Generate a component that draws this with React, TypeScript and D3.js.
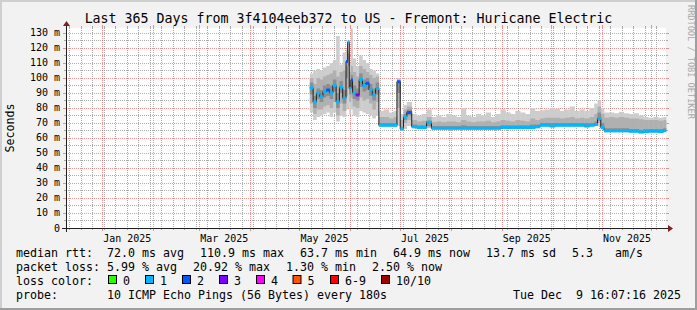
import React from 'react';
import * as d3 from 'd3';

// ---------------- data ----------------
const rangeStart = '2024-12-09T16:07:16';
const rangeEnd = '2025-12-09T16:07:16';

const yTickValues = [0, 10, 20, 30, 40, 50, 60, 70, 80, 90, 100, 110, 120, 130];
const yTickLabels = ['0', '10 m', '20 m', '30 m', '40 m', '50 m', '60 m', '70 m', '80 m', '90 m', '100 m', '110 m', '120 m', '130 m'];
const xLabelMonths = ['2025-01-01', '2025-03-01', '2025-05-01', '2025-07-01', '2025-09-01', '2025-11-01'];
const xLabelTexts = ['Jan 2025', 'Mar 2025', 'May 2025', 'Jul 2025', 'Sep 2025', 'Nov 2025'];

const binDates = [
  '2025-05-07', '2025-05-09', '2025-05-11', '2025-05-13', '2025-05-15', '2025-05-17', '2025-05-19', '2025-05-21',
  '2025-05-23', '2025-05-25', '2025-05-27', '2025-05-29', '2025-05-30', '2025-05-31', '2025-06-01', '2025-06-02',
  '2025-06-04', '2025-06-06', '2025-06-08', '2025-06-10', '2025-06-12', '2025-06-14', '2025-06-16',
  '2025-06-18', '2025-06-21', '2025-06-24', '2025-06-27', '2025-06-29', '2025-07-01', '2025-07-03', '2025-07-05',
  '2025-07-08', '2025-07-11', '2025-07-14', '2025-07-17', '2025-07-20', '2025-07-23', '2025-07-26', '2025-07-29',
  '2025-08-01', '2025-08-04', '2025-08-07', '2025-08-10', '2025-08-13', '2025-08-16', '2025-08-19', '2025-08-22',
  '2025-08-25', '2025-08-28', '2025-08-31', '2025-09-03', '2025-09-06', '2025-09-09', '2025-09-12', '2025-09-15',
  '2025-09-18', '2025-09-21', '2025-09-24', '2025-09-27', '2025-09-30', '2025-10-03', '2025-10-06', '2025-10-09',
  '2025-10-12', '2025-10-15', '2025-10-18', '2025-10-21', '2025-10-24', '2025-10-27', '2025-10-29', '2025-10-31',
  '2025-11-02', '2025-11-05', '2025-11-08', '2025-11-11', '2025-11-14', '2025-11-17', '2025-11-20', '2025-11-23',
  '2025-11-26', '2025-11-29', '2025-12-02', '2025-12-05', '2025-12-08',
];

const medianMs = [
  93.5, 84, 90, 87.5, 91, 92, 90, 95,
  84, 94, 86.5, 111, 124, 93, 98.7, 90,
  88.7, 99, 95, 96.5, 92, 88.7, 93,
  68.5, 68.5, 68.5, 68.5, 97.5, 66, 74, 77,
  67.5, 67, 67, 70.5, 66.5, 66.5, 66.5, 66.5,
  66.5, 66.5, 66.5, 66.5, 66.5, 66.5, 66.5, 66.5,
  66.5, 66.5, 67, 67, 67, 67, 67, 67,
  67, 67.5, 68.5, 68.5, 68, 68.5, 68.5, 68.5,
  68.5, 68.5, 68.5, 68, 68.5, 69, 73, 67,
  64.8, 64.8, 64.8, 64.8, 64.8, 64.5, 64.5, 64,
  64.3, 64.5, 64.5, 64.3, 64.9,
];

const lostPings = [
  1, 1, 1, 1, 1, 2, 1, 1,
  1, 1, 1, 2, 1, 1, 2, 1,
  3, 1, 1, 2, 1, 1, 1,
  1, 1, 1, 1, 2, 1, 1, 2,
  1, 1, 1, 1, 1, 1, 1, 1,
  1, 1, 1, 1, 1, 1, 1, 1,
  1, 1, 1, 1, 1, 1, 1, 1,
  1, 1, 1, 1, 1, 1, 1, 1,
  1, 1, 1, 1, 1, 1, 1, 1,
  1, 1, 1, 1, 1, 1, 1, 1,
  1, 1, 1, 1, 1,
];

const pingMinMs = [
  77, 72, 74, 75, 76, 77, 74, 77,
  71, 75, 74, 79, 80, 76, 79, 75,
  74, 78, 77, 76, 75, 73, 75,
  67.5, 67.5, 67.5, 67.5, 68, 65, 66, 68,
  66.5, 66, 66, 66.5, 65.5, 65.5, 65.5, 65.5,
  65.5, 65.5, 65.5, 65.5, 65.5, 65.5, 65.5, 65.5,
  65.5, 65.5, 66, 66, 66, 66, 66, 66,
  66, 66.5, 67.5, 67.5, 67, 67.5, 67.5, 67.5,
  67.5, 67.5, 67.5, 67, 67.5, 68, 68, 65.5,
  63.8, 63.8, 63.8, 63.8, 63.8, 63.5, 63.5, 63,
  63.3, 63.5, 63.5, 63.3, 63.9,
];

const pingLowMs = [
  83, 76, 79, 79, 81, 82, 80, 84,
  75, 83, 78, 88, 93, 84, 87, 81,
  80, 87, 85, 86, 83, 79, 84,
  67.8, 67.8, 67.8, 67.8, 80, 65.5, 70, 72,
  67, 66.5, 66.5, 67, 66, 66, 66, 66,
  66, 66, 66, 66, 66, 66, 66, 66,
  66, 66, 66.5, 66.5, 66.5, 66.5, 66.5, 66.5,
  66.5, 67, 68, 68, 67.5, 68, 68, 68,
  68, 68, 68, 67.5, 68, 68.5, 70, 66.5,
  64.3, 64.3, 64.3, 64.3, 64.3, 64, 64, 63.5,
  63.8, 64, 64, 63.8, 64.4,
];

const innerLoMs = [
  89, 80, 86, 84, 87, 88, 86, 91,
  80, 90, 83, 100, 108, 89, 93, 86,
  85, 94, 91, 92, 88, 85, 89,
  68, 68, 68, 68, 90, 66, 72, 75,
  67.2, 66.8, 66.8, 68, 66.3, 66.3, 66.3, 66.3,
  66.3, 66.3, 66.3, 66.3, 66.3, 66.3, 66.3, 66.3,
  66.3, 66.3, 66.8, 66.8, 66.8, 66.8, 66.8, 66.8,
  66.8, 67.3, 68.3, 68.3, 67.8, 68.3, 68.3, 68.3,
  68.3, 68.3, 68.3, 67.8, 68.3, 68.8, 71.5, 66.8,
  64.6, 64.6, 64.6, 64.6, 64.6, 64.3, 64.3, 63.8,
  64.1, 64.3, 64.3, 64.1, 64.7,
];

const innerHiMs = [
  97, 88, 93, 92, 95, 96, 95, 99,
  90, 98, 92, 108, 116, 97, 102, 95,
  93, 103, 99, 100, 96, 93, 97,
  70, 70, 70, 70, 98, 67.5, 76, 79,
  69, 68.5, 68.5, 71.5, 68, 68, 68, 68,
  68, 68, 68.5, 68, 68, 68, 68, 68,
  68, 68, 68.5, 68.5, 68.5, 68.5, 68.5, 68.5,
  69, 69, 70, 70, 70, 70, 70, 70,
  70, 70, 70, 70, 70, 71, 77, 70,
  66.5, 66.5, 66.5, 66.5, 66.5, 66, 66, 65.5,
  66, 66, 66, 66, 66.5,
];

const pingHighMs = [
  100, 96, 100, 99, 101, 102, 103, 105,
  101, 104, 105, 112, 118, 104, 108, 104,
  101, 108, 106, 104, 102, 100, 101,
  74, 74, 73, 74, 99, 72, 79, 81,
  72, 71, 71.5, 74, 70.5, 71, 70.5, 71,
  71, 70.5, 72, 71, 70.5, 71, 71, 71.5,
  70.5, 71, 72, 71.5, 71, 72, 71.5, 71,
  73, 72, 73, 73.5, 73.5, 73.5, 73, 73.5,
  74, 73, 73.5, 73, 74, 76, 81, 76,
  73.5, 74, 73.5, 74, 73.5, 73, 73, 72.5,
  72, 72, 72, 71.5, 72,
];

const pingMaxMs = [
  103, 105, 106, 105, 107, 108, 110, 112,
  128, 109, 117, 119, 125, 110, 133, 113,
  108, 115, 112, 110, 106, 105, 103,
  78, 79, 77, 78, 100, 76, 82, 84,
  76, 75, 76, 79, 74, 75, 74, 76,
  75, 74, 80, 75, 74, 76, 75, 77,
  74, 76, 79, 77, 76, 78, 77, 76,
  80, 78, 78.5, 79, 80, 79.5, 78, 79,
  81, 78, 79, 78, 80, 83, 85, 80,
  77, 77, 76.5, 77.5, 76.5, 76, 76.5, 75,
  74, 73.5, 74, 73.5, 74,
];

const lossColors = ['#26ff00', '#00b8ff', '#0059ff', '#7e00ff', '#ff00ff', '#ff5500', '#ff0000', '#a10000'];
const lossLabels = ['0', '1', '2', '3', '4', '5', '6-9', '10/10'];

const statRow1 = ['median rtt:', '72.0 ms avg', '110.9 ms max', '63.7 ms min', '64.9 ms now', '13.7 ms sd', '5.3', 'am/s'];
const statRow2 = ['packet loss:', '5.99 % avg', '20.92 % max', '1.30 % min', '2.50 % now'];

// ---------------- layout ----------------
const W = 697;
const H = 310;
const X0 = 66;
const XS = 600;
const Y0 = 228;
const YS = 200;
const YMAX = 133.333;

const MONO = '"DejaVu Sans Mono", monospace';
const GRID = 'rgba(143,143,143,0.75)';
const MGRID = 'rgba(222,79,79,0.6)';
const AXIS = '#1f1f1f';
const ARROW = '#801f1f';

export default function App() {
  const start = new Date(rangeStart);
  const end = new Date(rangeEnd);
  const x = d3.scaleTime().domain([start, end]).range([X0, X0 + XS]);
  const y = d3.scaleLinear().domain([0, YMAX]).range([Y0, Y0 - YS]);
  const px = (d: Date) => Math.floor(x(d)) + 0.5;
  const py = (v: number) => Math.round(y(v)) + 0.5;

  const bins = binDates.map((d, i) => {
    const t0 = new Date(d + 'T00:00:00');
    const t1 = i + 1 < binDates.length ? new Date(binDates[i + 1] + 'T00:00:00') : end;
    return {
      x0: x(t0), x1: x(t1), med: medianMs[i], loss: lostPings[i],
      min: pingMinMs[i], low: pingLowMs[i], ilo: innerLoMs[i], ihi: innerHiMs[i], high: pingHighMs[i], max: pingMaxMs[i],
    };
  });

  const minorWeeks = d3.timeThursday.range(start, end);
  const months = d3.timeMonth.range(start, end);
  const minorY = d3.range(5, YMAX, 5).filter((v) => v % 10 !== 0);
  const majorY = yTickValues.filter((v) => v > 0);

  const stepPts: [number, number][] = [];
  bins.forEach((b) => {
    stepPts.push([b.x0, y(b.med)]);
    stepPts.push([b.x1, y(b.med)]);
  });
  const stepPath = d3.line()(stepPts) || '';

  const layer = (lo: (b: any) => number, hi: (b: any) => number, fill: string, key: string) =>
    bins.map((b, i) => (
      <rect key={key + i} x={b.x0} width={b.x1 - b.x0 + 0.3} y={y(hi(b))} height={Math.max(0, y(lo(b)) - y(hi(b)))} fill={fill} />
    ));

  const rowY = [256.5, 270.5, 284.5, 298.5];
  const row1X = [16, 107, 200, 300, 393, 486, 572, 615];
  const row2X = [16, 107, 193, 286, 372];
  const boxX = [108, 145, 182, 219, 256, 292.5, 330, 381];

  return (
    <svg width={W} height={H} style={{ position: 'absolute', left: 0, top: 0 }} xmlns="http://www.w3.org/2000/svg">
      <rect x={0} y={0} width={W} height={H} fill="#f2f2f2" />
      <rect x={0} y={0} width={W} height={2} fill="#cfcfcf" />
      <rect x={0} y={0} width={2} height={H} fill="#cfcfcf" />
      <rect x={0} y={H - 2} width={W} height={2} fill="#9e9e9e" />
      <rect x={W - 2} y={0} width={2} height={H} fill="#9e9e9e" />
      <rect x={X0} y={Y0 - YS} width={XS} height={YS} fill="#ffffff" />

      {minorWeeks.map((d, i) => (
        <g key={'mw' + i}>
          <line x1={px(d)} x2={px(d)} y1={Y0 - YS} y2={Y0} stroke={GRID} strokeDasharray="1,1" />
          <line x1={px(d)} x2={px(d)} y1={Y0} y2={Y0 + 2} stroke={GRID} />
          <line x1={px(d)} x2={px(d)} y1={Y0 - YS - 2} y2={Y0 - YS} stroke={GRID} />
        </g>
      ))}
      {minorY.map((v, i) => (
        <g key={'my' + i}>
          <line x1={X0} x2={X0 + XS} y1={py(v)} y2={py(v)} stroke={GRID} strokeDasharray="1,1" />
          <line x1={X0 - 2} x2={X0} y1={py(v)} y2={py(v)} stroke={GRID} />
          <line x1={X0 + XS} x2={X0 + XS + 2} y1={py(v)} y2={py(v)} stroke={GRID} />
        </g>
      ))}
      {months.map((d, i) => (
        <g key={'mm' + i}>
          <line x1={px(d)} x2={px(d)} y1={Y0 - YS} y2={Y0} stroke={MGRID} strokeDasharray="1,1" />
          <line x1={px(d)} x2={px(d)} y1={Y0} y2={Y0 + 3} stroke={MGRID} />
          <line x1={px(d)} x2={px(d)} y1={Y0 - YS - 3} y2={Y0 - YS} stroke={MGRID} />
        </g>
      ))}
      {majorY.map((v, i) => (
        <g key={'My' + i}>
          <line x1={X0} x2={X0 + XS} y1={py(v)} y2={py(v)} stroke={MGRID} strokeDasharray="1,1" />
          <line x1={X0 - 3} x2={X0} y1={py(v)} y2={py(v)} stroke={MGRID} />
          <line x1={X0 + XS} x2={X0 + XS + 3} y1={py(v)} y2={py(v)} stroke={MGRID} />
        </g>
      ))}

      {layer((b) => b.min, (b) => b.max, '#cdcdcd', 'l1')}
      {layer((b) => b.low, (b) => b.high, '#b0b0b0', 'l2')}
      {layer((b) => b.ilo, (b) => b.ihi, '#8e8e8e', 'l3')}

      <path d={stepPath} fill="none" stroke="#202020" strokeWidth={1} />
      {bins.map((b, i) => (
        <rect key={'md' + i} x={b.x0} width={b.x1 - b.x0 + 0.3} y={y(b.med) - 1.5} height={3}
          fill={lossColors[Math.min(b.loss, 7)]} />
      ))}

      <line x1={X0 - 4} x2={X0 + XS + 4} y1={Y0 + 0.5} y2={Y0 + 0.5} stroke={AXIS} />
      <line x1={X0 + 0.5} x2={X0 + 0.5} y1={Y0 + 4} y2={Y0 - YS - 4} stroke={AXIS} />
      <polygon points={`${X0 + XS + 2},${Y0 - 3} ${X0 + XS + 2},${Y0 + 4} ${X0 + XS + 7},${Y0 + 0.5}`} fill={ARROW} />
      <polygon points={`${X0 - 3},${Y0 - YS - 2} ${X0 + 4},${Y0 - YS - 2} ${X0 + 0.5},${Y0 - YS - 7}`} fill={ARROW} />

      {yTickValues.map((v, i) => (
        <text key={'yl' + i} x={60} y={y(v) + 3.5} textAnchor="end" fontFamily={MONO} fontSize={9.97} fill="#000">
          {yTickLabels[i]}
        </text>
      ))}
      {xLabelMonths.map((m, i) => {
        const d = d3.timeDay.offset(new Date(m + 'T00:00:00'), 15);
        return (
          <text key={'xl' + i} x={x(d)} y={241.5} textAnchor="middle" fontFamily={MONO} fontSize={9.97} fill="#000">
            {xLabelTexts[i]}
          </text>
        );
      })}

      <text x={W / 2} y={23} textAnchor="middle" fontFamily={MONO} fontSize={13.29} fill="#000">
        Last 365 Days from 3f4104eeb372 to US - Fremont: Huricane Electric
      </text>
      <text transform={`translate(14,${Y0 - YS / 2}) rotate(-90)`} textAnchor="middle" fontFamily={MONO} fontSize={11.63} fill="#000">
        Seconds
      </text>
      <text transform={`translate(687.5,5) rotate(90)`} fontFamily={MONO} fontSize={8.6} fill="#a8a8a8">
        RRDTOOL / TOBI OETIKER
      </text>

      {statRow1.map((s, i) => (
        <text key={'r1' + i} x={row1X[i]} y={rowY[0]} fontFamily={MONO} fontSize={11.63} fill="#000">{s}</text>
      ))}
      {statRow2.map((s, i) => (
        <text key={'r2' + i} x={row2X[i]} y={rowY[1]} fontFamily={MONO} fontSize={11.63} fill="#000">{s}</text>
      ))}
      <text x={16} y={rowY[2]} fontFamily={MONO} fontSize={11.63} fill="#000">loss color:</text>
      {lossLabels.map((l, i) => (
        <g key={'lc' + i}>
          <rect x={boxX[i] + 0.5} y={275.5} width={8} height={8} fill={lossColors[i]} stroke="#000" strokeWidth={1} />
          <text x={boxX[i] + 15} y={rowY[2]} fontFamily={MONO} fontSize={11.63} fill="#000">{l}</text>
        </g>
      ))}
      <text x={16} y={rowY[3]} fontFamily={MONO} fontSize={11.63} fill="#000">probe:</text>
      <text x={107} y={rowY[3]} fontFamily={MONO} fontSize={11.63} fill="#000">10 ICMP Echo Pings (56 Bytes) every 180s</text>
      <text x={681} y={rowY[3]} textAnchor="end" fontFamily={MONO} fontSize={11.63} fill="#000" style={{ whiteSpace: 'pre' }}>
        {'Tue Dec  9 16:07:16 2025'}
      </text>
    </svg>
  );
}
